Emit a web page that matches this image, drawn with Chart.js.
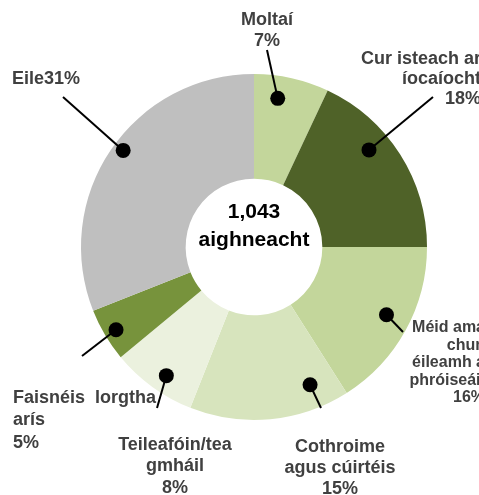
<!DOCTYPE html>
<html>
<head>
<meta charset="utf-8">
<script src="https://cdn.jsdelivr.net/npm/chart.js@4/dist/chart.umd.min.js"></script>
<style>
  html, body { margin: 0; padding: 0; background: #fff; }
  canvas { display: block; }
</style>
</head>
<body>
<canvas id="donut" width="479" height="495"></canvas>
<script>
// data
const categories = [
  "Moltaí",
  "Cur isteach ar íocaíocht",
  "Méid ama chun éileamh a phróiseáil",
  "Cothroime agus cúirtéis",
  "Teileafóin/teagmháil",
  "Faisnéis lorgtha arís",
  "Eile",
];
const shares = [7, 18, 16, 15, 8, 5, 31];
const totalCount = "1,043";
const totalLabel = "aighneacht";

// how each label is wrapped in the picture
const labelLines = [
  ["Moltaí"],
  ["Cur isteach ar", "íocaíocht"],
  ["Méid ama", "chun", "éileamh a", "phróiseáil"],
  ["Cothroime", "agus cúirtéis"],
  ["Teileafóin/tea", "gmháil"],
  ["Faisnéis  lorgtha", "arís"],
  ["Eile"],
];

const COLORS = ["#c3d69b", "#4f6228", "#c3d69b", "#d7e4bd", "#ebf1de", "#77933c", "#bfbfbf"];
const FONT = "'Liberation Sans', Arial, sans-serif";
const TEXT = "#404040";

// t = where along the slice the dot sits, rf = fraction of outer radius
// (ex, ey) = outer end of the leader line, label block anchor
const LAYOUT = [
  { t: 0.36, rf: 0.87, ex: 267, ey: 50, x: 267, y: 20, align: "center", size: 18, lh: 21 },
  { t: 0.38, rf: 0.87, ex: 433, ey: 97, x: 481, y: 59, align: "right", size: 18, lh: 20 },
  { t: 0.47, rf: 0.86, ex: 403, ey: 332, x: 485, y: 328, align: "right", size: 16, lh: 17.5 },
  { t: 0.19, rf: 0.86, ex: 321, ey: 408, x: 340, y: 447, align: "center", size: 18, lh: 21 },
  { t: 0.44, rf: 0.90, ex: 157, ey: 408, x: 175, y: 445, align: "center", size: 18, lh: 21.5 },
  { t: 0.48, rf: 0.93, ex: 82, ey: 356, x: 13, y: 398, align: "left", size: 18, lh: 22.5 },
  { t: 0.52, rf: 0.94, ex: 63, ey: 97, x: 12, y: 79, align: "left", size: 18, lh: 21, inline: true },
];

const calloutPlugin = {
  id: "callouts",
  afterDraw(chart) {
    const ctx = chart.ctx;
    const arcs = chart.getDatasetMeta(0).data;
    ctx.save();

    arcs.forEach((arc, i) => {
      const lay = LAYOUT[i];
      const a = arc.startAngle + lay.t * (arc.endAngle - arc.startAngle);
      const r = lay.rf * arc.outerRadius;
      const dx = arc.x + Math.cos(a) * r;
      const dy = arc.y + Math.sin(a) * r;

      ctx.strokeStyle = "#000";
      ctx.lineWidth = 2;
      ctx.beginPath();
      ctx.moveTo(dx, dy);
      ctx.lineTo(lay.ex, lay.ey);
      ctx.stroke();

      ctx.fillStyle = "#000";
      ctx.beginPath();
      ctx.arc(dx, dy, 7.5, 0, Math.PI * 2);
      ctx.fill();

      const pct = shares[i] + "%";
      let lines = labelLines[i].slice();
      if (lay.inline) lines[lines.length - 1] += pct;
      else lines.push(pct);

      ctx.fillStyle = TEXT;
      ctx.font = "bold " + lay.size + "px " + FONT;
      ctx.textAlign = lay.align;
      ctx.textBaseline = "middle";
      lines.forEach((ln, k) => ctx.fillText(ln, lay.x, lay.y + k * lay.lh));
    });

    // total in the hole
    const c = arcs[0];
    ctx.fillStyle = "#000";
    ctx.font = "bold 21px " + FONT;
    ctx.textAlign = "center";
    ctx.textBaseline = "middle";
    ctx.fillText(totalCount, c.x, c.y - 35);
    ctx.fillText(totalLabel, c.x, c.y - 7);
    ctx.restore();
  },
};

new Chart(document.getElementById("donut").getContext("2d"), {
  type: "doughnut",
  data: {
    labels: categories,
    datasets: [
      {
        data: shares,
        backgroundColor: COLORS,
        borderWidth: 0,
        hoverOffset: 0,
        offset: 0,
      },
    ],
  },
  options: {
    responsive: false,
    animation: false,
    cutout: "39.5%",
    layout: { padding: { left: 81, right: 52, top: 74, bottom: 75 } },
    plugins: { legend: { display: false }, tooltip: { enabled: false } },
    events: [],
  },
  plugins: [calloutPlugin],
});
</script>
</body>
</html>
